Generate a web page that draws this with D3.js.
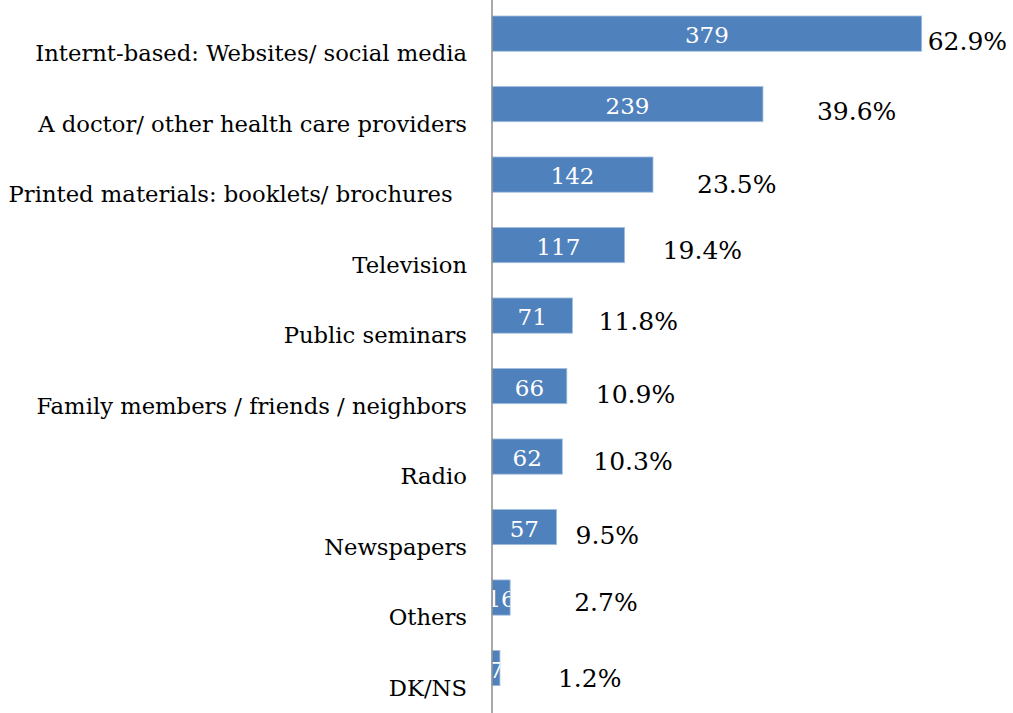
<!DOCTYPE html>
<html>
<head>
<meta charset="utf-8">
<script src="https://cdn.jsdelivr.net/npm/d3@7"></script>
<style>
  body { margin: 0; background: #fff; }
  text { font-family: "DejaVu Serif", serif; }
</style>
</head>
<body>
<svg id="vis"></svg>
<script>
const categories = [
  "Internt-based: Websites/ social media",
  "A doctor/ other health care providers",
  "Printed materials: booklets/ brochures  ",
  "Television",
  "Public seminars",
  "Family members / friends / neighbors",
  "Radio",
  "Newspapers",
  "Others",
  "DK/NS",
];
const counts = [379, 239, 142, 117, 71, 66, 62, 57, 16, 7];
const percents = ["62.9%", "39.6%", "23.5%", "19.4%", "11.8%", "10.9%", "10.3%", "9.5%", "2.7%", "1.2%"];

// the percent labels were dragged by hand in the original, so nudge them (px)
const PCT_DX = [6, 54, 44, 38, 26, 29, 31, 19, 64, 58];
const PCT_DY = [16, 15.5, 18.5, 14.3, 14, 16.5, 13, 16.6, 13.7, 18.7];

const WIDTH = 1013;
const HEIGHT = 713;
const AXIS_X = 492;

const svg = d3.select("#vis").attr("width", WIDTH).attr("height", HEIGHT);

const x = d3.scaleLinear().domain([0, 400]).range([AXIS_X, AXIS_X + 453.5]);
const y = d3
  .scaleBand()
  .domain(categories)
  .range([-19.25, 720.9])
  .padding(0.5);

const defs = svg.append("defs");

const bars = svg
  .selectAll("g.bar")
  .data(categories)
  .join("g")
  .attr("class", "bar");

// clip the value labels to their bar, like the tiny ones in the original
defs
  .selectAll("clipPath")
  .data(categories)
  .join("clipPath")
  .attr("id", (_, i) => "clip" + i)
  .append("rect")
  .attr("x", x(0))
  .attr("y", (d) => y(d))
  .attr("width", (_, i) => x(counts[i]) - x(0))
  .attr("height", y.bandwidth());

bars
  .append("rect")
  .attr("x", x(0))
  .attr("y", (d) => y(d))
  .attr("width", (_, i) => x(counts[i]) - x(0))
  .attr("height", y.bandwidth())
  .attr("fill", "#4f81bd")
  .attr("stroke", "#a7c0de")
  .attr("stroke-width", 0.8);

bars
  .append("text")
  .attr("clip-path", (_, i) => `url(#clip${i})`)
  .attr("x", (_, i) => (x(0) + x(counts[i])) / 2)
  .attr("y", (d) => y(d) + y.bandwidth() / 2 + 9.5)
  .attr("text-anchor", "middle")
  .attr("fill", "#fff")
  .attr("font-size", 23)
  .text((_, i) => counts[i]);

bars
  .append("text")
  .attr("x", (_, i) => x(counts[i]) + PCT_DX[i])
  .attr("y", (d, i) => y(d) + y.bandwidth() / 2 + PCT_DY[i])
  .attr("fill", "#000")
  .attr("font-size", 25)
  .text((_, i) => percents[i]);

// category labels
svg
  .append("g")
  .selectAll("text")
  .data(categories)
  .join("text")
  .attr("x", 467)
  .attr("y", (d) => y(d) + y.bandwidth() / 2 + 27.5)
  .attr("text-anchor", "end")
  .attr("fill", "#000")
  .attr("font-size", 22.7)
  .style("white-space", "pre")
  .text((d) => d);

// vertical axis line
svg
  .append("line")
  .attr("x1", AXIS_X)
  .attr("x2", AXIS_X)
  .attr("y1", 0)
  .attr("y2", HEIGHT)
  .attr("stroke", "#8c8c8c")
  .attr("stroke-width", 1.5);
</script>
</body>
</html>
